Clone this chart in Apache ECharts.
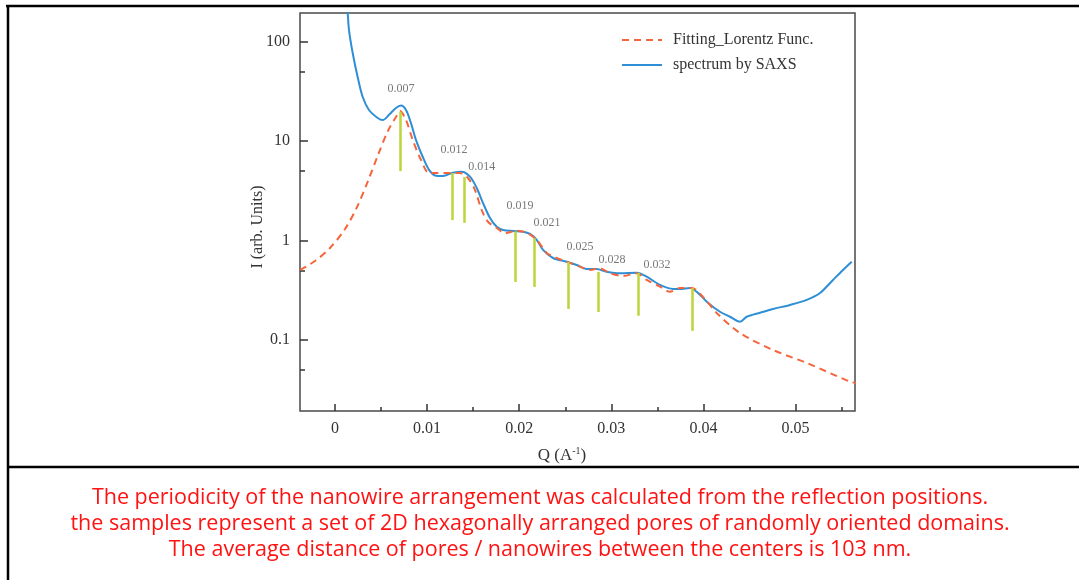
<!DOCTYPE html>
<html>
<head>
<meta charset="utf-8">
<script src="https://cdn.jsdelivr.net/npm/echarts@6/dist/echarts.min.js"></script>
<style>
  html, body { margin: 0; padding: 0; background: #fff; }
  #chart { width: 1079px; height: 580px; }
</style>
</head>
<body>
<div id="chart"></div>
<script>
// SAXS spectrum (blue), Q in 1/A, intensity in arb. units
const specQ = [0.00128, 0.00138, 0.00152, 0.00192, 0.00246, 0.00301, 0.00369, 0.00464, 0.00518, 0.00586,
  0.00662, 0.00717, 0.00771, 0.00825, 0.00879, 0.00952, 0.01021, 0.01097, 0.01173, 0.01281,
  0.01376, 0.01466, 0.01539, 0.01607, 0.01683, 0.01756, 0.01824, 0.01933, 0.02041, 0.02117,
  0.02190, 0.02259, 0.02367, 0.02516, 0.02624, 0.02733, 0.02841, 0.02950, 0.03094, 0.03276,
  0.03384, 0.03529, 0.03670, 0.03746, 0.03855, 0.03941, 0.04036, 0.04180, 0.04289, 0.04397,
  0.04470, 0.04615, 0.04756, 0.04940, 0.05122, 0.05266, 0.05407, 0.05516, 0.05610]
const specI = [262, 194, 131, 76.9, 44.2, 27.8, 20.6, 17.1, 16.3, 18.4,
  21.6, 22.8, 20.6, 15.2, 10.3, 6.98, 5.15, 4.50, 4.47, 4.82,
  4.94, 4.40, 3.39, 2.39, 1.69, 1.38, 1.28, 1.25, 1.23, 1.17,
  1.02, 0.807, 0.670, 0.615, 0.570, 0.520, 0.520, 0.488, 0.470, 0.477,
  0.435, 0.359, 0.327, 0.327, 0.335, 0.299, 0.244, 0.193, 0.172, 0.153,
  0.172, 0.189, 0.206, 0.226, 0.254, 0.298, 0.403, 0.508, 0.615]

// Lorentz fit (red dashed)
const fitQ = [-0.0038, -0.00217, -0.00054, 0.00109, 0.00239, 0.00358, 0.00467, 0.00575, 0.00662, 0.00706,
  0.00771, 0.00844, 0.00934, 0.01021, 0.01104, 0.01249, 0.01357, 0.01444, 0.01520, 0.01593,
  0.01661, 0.01756, 0.01846, 0.01973, 0.02081, 0.02190, 0.02299, 0.02407, 0.02552, 0.02660,
  0.02769, 0.02877, 0.02986, 0.03127, 0.03276, 0.03384, 0.03529, 0.03637, 0.03746, 0.03873,
  0.03996, 0.04144, 0.04397, 0.04756, 0.05122, 0.05592, 0.05660]
const fitI = [0.508, 0.625, 0.845, 1.31, 2.18, 3.98, 7.27, 12.7, 17.5, 20.1,
  16.3, 10.3, 6.47, 4.79, 4.79, 4.79, 4.79, 4.27, 3.23, 2.03,
  1.55, 1.34, 1.19, 1.26, 1.20, 1.02, 0.752, 0.670, 0.597, 0.548,
  0.508, 0.528, 0.470, 0.442, 0.470, 0.403, 0.345, 0.307, 0.335, 0.335,
  0.272, 0.188, 0.118, 0.0797, 0.0590, 0.0383, 0.0371]

// reflection markers (green lines) and their labels
const peakQ = [0.00709, 0.0127, 0.0140, 0.01954, 0.02161, 0.02530, 0.02856, 0.03290, 0.03877]
const peakTop = [19.8, 4.79, 4.37, 1.24, 1.06, 0.611, 0.486, 0.475, 0.335]
const peakBottom = [5.01, 1.61, 1.51, 0.385, 0.343, 0.206, 0.192, 0.176, 0.124]
const peakLabels = ['0.007', '0.012', '0.014', '0.019', '0.021', '0.025', '0.028', '0.032']
const labelQ = [0.00717, 0.01292, 0.01593, 0.02009, 0.02302, 0.02660, 0.03008, 0.03496]
const labelI = [33.5, 8.16, 5.54, 2.23, 1.51, 0.870, 0.640, 0.570]

// axis ticks
const xMajor = [0, 0.01, 0.02, 0.03, 0.04, 0.05]
const xMinor = [0.005, 0.015, 0.025, 0.035, 0.045, 0.055]
const yMinor = [0.05, 0.5, 5, 50]

const notes = [
  'The periodicity of the nanowire arrangement was calculated from the reflection positions.',
  'the samples represent a set of 2D hexagonally arranged pores of randomly oriented domains.',
  'The average distance of pores / nanowires between the centers is 103 nm.'
]

const SERIF = '"Liberation Serif", "Times New Roman", serif'
const X_MIN = -0.0038, X_MAX = 0.05646
const Y_MIN = 0.01942, Y_MAX = 194.3

const chart = echarts.init(document.getElementById('chart'), null, { renderer: 'canvas' })

const zip = (a, b) => a.map((v, i) => [v, b[i]])

const option = {
  animation: false,
  backgroundColor: '#fff',
  grid: {
    left: 300, right: 224, top: 13, bottom: 169,
    show: true, borderColor: '#4a4a4a', borderWidth: 1.5
  },
  legend: {
    data: ['Fitting_Lorentz Func.', 'spectrum by SAXS'],
    orient: 'vertical',
    left: 616, top: 27,
    itemWidth: 40, itemHeight: 14, itemGap: 9,
    itemStyle: { opacity: 0 },
    textStyle: { fontFamily: SERIF, fontSize: 16, color: '#333', padding: [0, 0, 0, 6] }
  },
  xAxis: [{
    type: 'value', min: X_MIN, max: X_MAX,
    axisLine: { show: false, onZero: false },
    splitLine: { show: false },
    axisTick: { show: true, inside: true, length: 7, customValues: xMajor, lineStyle: { color: '#333', width: 1.5 } },
    axisLabel: { customValues: xMajor, margin: 10, fontFamily: SERIF, fontSize: 16, color: '#333' }
  }, {
    type: 'value', min: X_MIN, max: X_MAX, gridIndex: 0, position: 'bottom',
    axisLine: { show: false, onZero: false },
    splitLine: { show: false },
    axisTick: { show: true, inside: true, length: 4, customValues: xMinor, lineStyle: { color: '#333', width: 1.5 } },
    axisLabel: { show: false }
  }],
  yAxis: [{
    type: 'log', logBase: 10, min: Y_MIN, max: Y_MAX,
    axisLine: { show: false, onZero: false },
    splitLine: { show: false },
    axisTick: { show: true, inside: true, length: 8, lineStyle: { color: '#333', width: 1.5 } },
    axisLabel: { showMinLabel: false, showMaxLabel: false, margin: 10, fontFamily: SERIF, fontSize: 16, color: '#333' }
  }, {
    type: 'log', logBase: 10, min: Y_MIN, max: Y_MAX, gridIndex: 0, position: 'left',
    axisLine: { show: false, onZero: false },
    splitLine: { show: false },
    axisTick: { show: true, inside: true, length: 5, customValues: yMinor, lineStyle: { color: '#333', width: 1.5 } },
    axisLabel: { show: false }
  }],
  series: [
    {
      name: 'spectrum by SAXS',
      type: 'line',
      data: zip(specQ, specI),
      smooth: 0.3,
      symbol: 'none',
      z: 3,
      lineStyle: { color: '#2e8fd6', width: 2 },
      itemStyle: { color: '#2e8fd6' }
    },
    {
      name: 'Fitting_Lorentz Func.',
      type: 'line',
      data: zip(fitQ, fitI),
      smooth: 0.3,
      symbol: 'none',
      z: 4,
      lineStyle: { color: '#f5653c', width: 2, type: [7, 5] },
      itemStyle: { color: '#f5653c' }
    },
    {
      name: 'peaks',
      type: 'scatter',
      data: labelQ.map((q, i) => ({ value: [q, labelI[i]], name: peakLabels[i] })),
      symbolSize: 1,
      itemStyle: { color: 'transparent' },
      silent: true,
      z: 5,
      label: {
        show: true, position: 'inside', formatter: p => p.name,
        fontFamily: SERIF, fontSize: 12, color: '#555'
      },
      markLine: {
        silent: true,
        symbol: ['none', 'none'],
        label: { show: false },
        lineStyle: { color: '#bdd53a', width: 2.5, type: 'solid' },
        data: peakQ.map((q, i) => [{ coord: [q, peakTop[i]] }, { coord: [q, peakBottom[i]] }])
      }
    }
  ],
  graphic: [
    { type: 'line', shape: { x1: 6, y1: 6, x2: 1079, y2: 6 }, style: { stroke: '#000', lineWidth: 2.5 } },
    { type: 'line', shape: { x1: 8, y1: 5, x2: 8, y2: 580 }, style: { stroke: '#000', lineWidth: 2.5 } },
    { type: 'line', shape: { x1: 7, y1: 467, x2: 1079, y2: 467 }, style: { stroke: '#000', lineWidth: 2.5 } },
    {
      type: 'text', x: 258, y: 227, rotation: Math.PI / 2,
      style: { text: 'I (arb. Units)', font: '16px ' + SERIF, fill: '#333', align: 'center', verticalAlign: 'middle' }
    },
    {
      type: 'text', x: 562, y: 456,
      style: {
        text: '{a|Q (A}{b|-1}{a|)}', align: 'center', verticalAlign: 'middle', fill: '#333',
        rich: {
          a: { font: '17px ' + SERIF, fill: '#333', lineHeight: 20 },
          b: { font: '10px ' + SERIF, fill: '#333', verticalAlign: 'top', lineHeight: 20 }
        }
      }
    },
    ...notes.map((t, i) => ({
      type: 'text', x: 540, y: 498 + i * 26,
      style: { text: t, font: '21.5px "Open Sans", Roboto, sans-serif', fill: '#ff1212', align: 'center', verticalAlign: 'middle' }
    }))
  ]
}

chart.setOption(option)
</script>
</body>
</html>
